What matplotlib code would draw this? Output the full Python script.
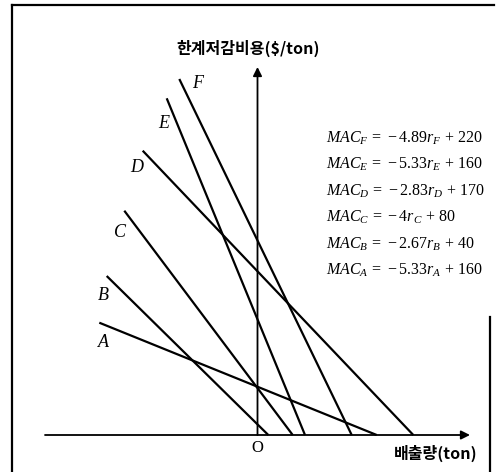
import matplotlib
matplotlib.use("Agg")
import matplotlib.pyplot as plt
from matplotlib.lines import Line2D

plt.rcParams['mathtext.fontset'] = 'custom'
plt.rcParams['mathtext.rm'] = 'Liberation Serif'
plt.rcParams['mathtext.it'] = 'Liberation Serif:italic'
plt.rcParams['mathtext.bf'] = 'Liberation Serif:bold'

KOR = ['Noto Sans CJK KR', 'DejaVu Sans']

# Marginal abatement cost curves (schematic): upper-left end point and
# the emission level where each curve reaches zero cost.
curves = ['F', 'E', 'D', 'C', 'B', 'A']
start_emission = [-78.2, -90.8, -114.8, -133.2, -150.8, -158.2]
start_cost = [356.0, 336.7, 284.3, 224.3, 159.0, 112.3]
zero_cost_emission = [94.2, 47.5, 155.8, 35.2, 10.8, 119.2]

# Equations listed on the right-hand side
equations = [
    r'$MAC_F\,=\,-4.89r_F\,+\,220$',
    r'$MAC_E\,=\,-5.33r_E\,+\,160$',
    r'$MAC_D\,=\,-2.83r_D\,+\,170$',
    r'$MAC_C\,=\,-4r_C\,+\,80$',
    r'$MAC_B\,=\,-2.67r_B\,+\,40$',
    r'$MAC_A\,=\,-5.33r_A\,+\,160$',
]

# label offsets (in axis units) from each curve's upper end
label_dx = [18, -3, -6, -4, -3, 4]
label_dy = [-4, -25, -17, -22, -19, -20]

fig = plt.figure(figsize=(4.96, 4.72), dpi=100)
ax = fig.add_axes([0, 0, 1, 1])
ax.set_xlim(-257.5, 238.5)
ax.set_ylim(-37, 435)
ax.axis('off')

# outer frame
frame_kw = dict(color='black', lw=1.6, transform=fig.transFigure)
fig.add_artist(Line2D([12 / 496, 12 / 496], [0, 1 - 5 / 472], **frame_kw))
fig.add_artist(Line2D([12 / 496, 494 / 496], [1 - 5 / 472, 1 - 5 / 472], **frame_kw))
fig.add_artist(Line2D([490 / 496, 490 / 496], [0, 1 - 317 / 472], **frame_kw))

# axes with arrows
arrow_kw = dict(arrowstyle='-|>', lw=1.3, color='black', mutation_scale=13,
                shrinkA=0, shrinkB=0)
ax.annotate('', xy=(212.5, 0), xytext=(-212.5, 0), arrowprops=arrow_kw)
ax.annotate('', xy=(0, 368), xytext=(0, 0), arrowprops=arrow_kw)

# curves
for name, x0, y0, x1, dx, dy in zip(curves, start_emission, start_cost,
                                    zero_cost_emission, label_dx, label_dy):
    ax.plot([x0, x1], [y0, 0], color='black', lw=1.6, solid_capstyle='butt')
    ax.text(x0 + dx, y0 + dy, name, fontsize=13, fontstyle='italic',
            family='Liberation Serif', ha='center', va='center')

# equations
for i, eq in enumerate(equations):
    ax.text(68.5, 296.7 - i * 26.4, eq, fontsize=11.5, ha='left', va='center',
            color='black')

# axis titles
ax.text(-9, 387, '한계저감비용($/ton)', family=KOR, fontsize=11.5,
        fontweight='bold', ha='center', va='center')
ax.text(220, -18, '배출량(ton)', family=KOR, fontsize=11.5,
        fontweight='bold', ha='right', va='center')
ax.text(0, -13, 'O', family='Liberation Serif', fontsize=12,
        ha='center', va='center')

fig.savefig('out.png', dpi=100)
